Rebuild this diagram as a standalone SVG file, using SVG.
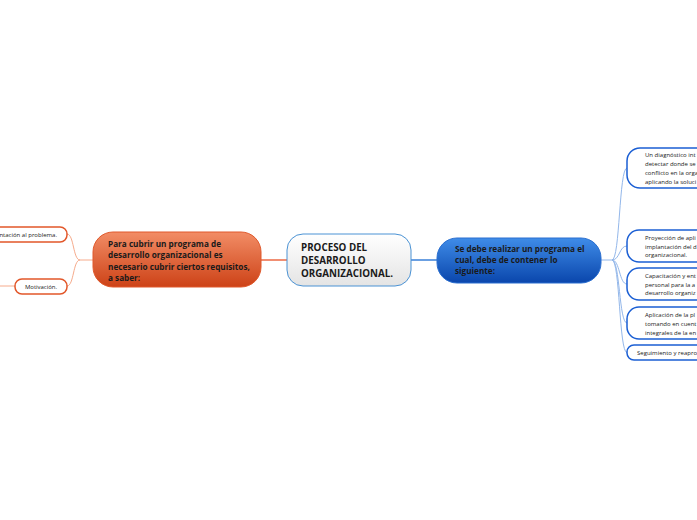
<svg xmlns="http://www.w3.org/2000/svg" width="697" height="520" viewBox="0 0 697 520">
<defs>
<linearGradient id="gOrange" x1="0" y1="0" x2="0" y2="1">
<stop offset="0" stop-color="#f28d66"/>
<stop offset="1" stop-color="#cd4217"/>
</linearGradient>
<linearGradient id="gBlue" x1="0" y1="0" x2="0" y2="1">
<stop offset="0" stop-color="#3f8ce8"/>
<stop offset="1" stop-color="#0a46ac"/>
</linearGradient>
<linearGradient id="gWhite" x1="0" y1="0" x2="0" y2="1">
<stop offset="0" stop-color="#ffffff"/>
<stop offset="1" stop-color="#e4e4e4"/>
</linearGradient>
<style>
text{font-family:"Open Sans","Noto Sans","Liberation Sans",sans-serif;fill:#1a1a1a}
.b{font-weight:bold}
.sm{font-size:6px}
.rn{fill:#ffffff;stroke:#1b5fd4;stroke-width:1.5}
.ln{fill:#ffffff;stroke:#e2572a;stroke-width:1.5}
.rc{fill:none;stroke:#93b7ea;stroke-width:1}
.lc{fill:none;stroke:#f6ab8c;stroke-width:1}
</style>
</defs>
<rect width="697" height="520" fill="#ffffff"/>
<g id="connectors">
<line x1="261" y1="260" x2="287" y2="260" stroke="#ec6a44" stroke-width="1.5"/>
<line x1="411" y1="260" x2="437" y2="260" stroke="#3a80d8" stroke-width="1.5"/>
<path class="lc" d="M93,260 H80 M80,260 C73,260 74,234 67,234 M80,260 C73,260 74,286 67,286 M0,286 H15"/>
<path class="rc" d="M601,260 H612 M612,260 C620,260 619,168 627,168 M612,260 C620,260 619,246 627,246 M612,260 C620,260 619,284 627,284 M612,260 C620,260 619,323 627,323 M612,260 C620,260 619,352.5 627,352.5"/>
</g>
<g id="center">
<rect x="287" y="234" width="124" height="52" rx="16" fill="url(#gWhite)" stroke="#4a92d4" stroke-width="1"/>
<text class="b" font-size="9.8" x="301" y="251">PROCESO DEL</text>
<text class="b" font-size="9.8" x="301" y="264">DESARROLLO</text>
<text class="b" font-size="9.8" x="301" y="277">ORGANIZACIONAL.</text>
</g>
<g id="requisitos">
<rect x="93" y="232" width="168" height="55" rx="20" fill="url(#gOrange)" stroke="#e0592c" stroke-width="1"/>
<text class="b" font-size="8.2" x="108" y="246.5">Para cubrir un programa de</text>
<text class="b" font-size="8.2" x="108" y="258">desarrollo organizacional es</text>
<text class="b" font-size="8.2" x="108" y="269.5">necesario cubrir ciertos requisitos,</text>
<text class="b" font-size="8.2" x="108" y="281">a saber:</text>
</g>
<g id="programa">
<rect x="437" y="238" width="164" height="45" rx="20" fill="url(#gBlue)" stroke="#2b6fd0" stroke-width="1"/>
<text class="b" font-size="8.2" x="455" y="252">Se debe realizar un programa el</text>
<text class="b" font-size="8.2" x="455" y="263">cual, debe de contener lo</text>
<text class="b" font-size="8.2" x="455" y="274">siguiente:</text>
</g>
<g id="orientacion">
<rect class="ln" x="-40" y="227" width="107" height="15" rx="7"/>
<text class="sm" x="57" y="236.5" text-anchor="end">ntación al problema.</text>
</g>
<g id="motivacion">
<rect class="ln" x="15" y="279" width="52" height="15" rx="7"/>
<text class="sm" x="41" y="288.5" text-anchor="middle">Motivación.</text>
</g>
<g id="diagnostico">
<rect class="rn" x="627" y="148" width="120" height="40" rx="13"/>
<text class="sm" x="645" y="157">Un diagnóstico int</text>
<text class="sm" x="645" y="166">detectar donde se</text>
<text class="sm" x="645" y="174.5">conflicto en la orga</text>
<text class="sm" x="645" y="183.5">aplicando la soluci</text>
</g>
<g id="proyeccion">
<rect class="rn" x="627" y="230" width="120" height="32" rx="12"/>
<text class="sm" x="645" y="240">Proyección de apli</text>
<text class="sm" x="645" y="248.5">implantación del d</text>
<text class="sm" x="645" y="257">organizacional.</text>
</g>
<g id="capacitacion">
<rect class="rn" x="627" y="268" width="120" height="32" rx="12"/>
<text class="sm" x="645" y="278">Capacitación y ent</text>
<text class="sm" x="645" y="286.5">personal para la a</text>
<text class="sm" x="645" y="295">desarrollo organiz</text>
</g>
<g id="aplicacion">
<rect class="rn" x="627" y="307" width="120" height="32" rx="12"/>
<text class="sm" x="645" y="317">Aplicación de la pl</text>
<text class="sm" x="645" y="326">tomando en cuent</text>
<text class="sm" x="645" y="335">integrales de la en</text>
</g>
<g id="seguimiento">
<rect class="rn" x="627" y="345" width="120" height="15" rx="7"/>
<text class="sm" x="637" y="355">Seguimiento y reapro</text>
</g>
</svg>
